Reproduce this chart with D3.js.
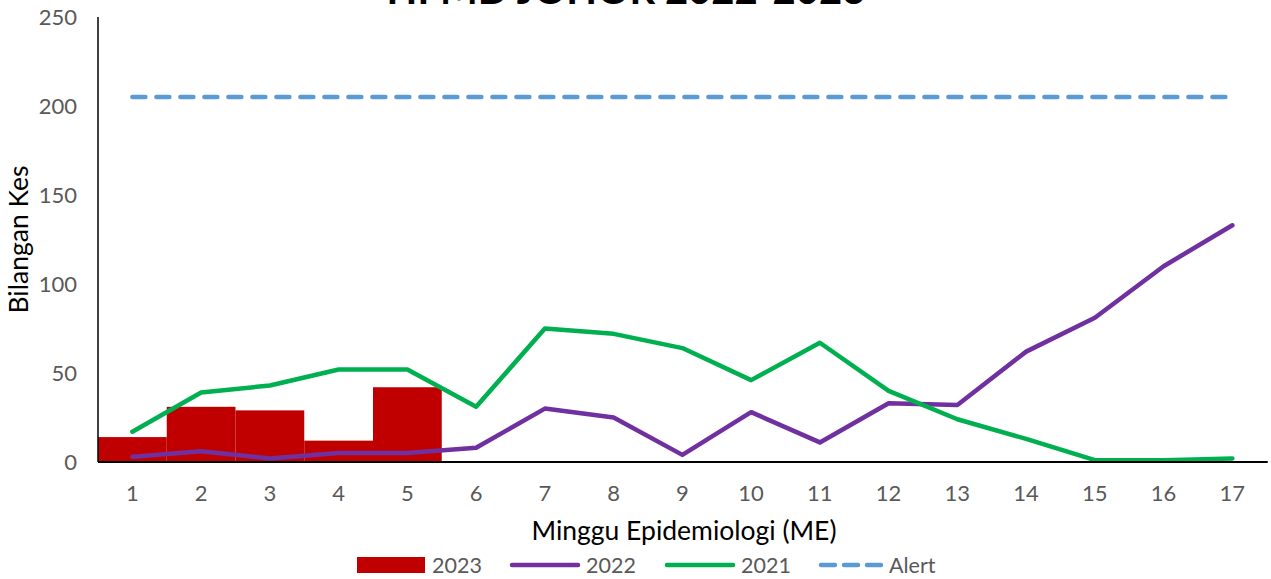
<!DOCTYPE html>
<html>
<head>
<meta charset="utf-8">
<script src="https://cdn.jsdelivr.net/npm/d3@7"></script>
<style>
  body { margin: 0; background: #fff; }
  text { font-family: Lato, "Open Sans", sans-serif; }
</style>
</head>
<body>
<script>
// Chart data
var weeks = d3.range(1, 18);
var cases2023 = [14, 31, 29, 12, 42];
var cases2022 = [3, 6, 2, 5, 5, 8, 30, 25, 4, 28, 11, 33, 32, 62, 81, 110, 133];
var cases2021 = [17, 39, 43, 52, 52, 31, 75, 72, 64, 46, 67, 40, 24, 13, 1, 1, 2];
var alertLevel = weeks.map(() => 205);
var yTicks = [0, 50, 100, 150, 200, 250];

var width = 1271, height = 579;
var margin = {top: 17, right: 4, bottom: 117, left: 98};
var innerW = width - margin.left - margin.right,
    innerH = height - margin.top - margin.bottom;

var svg = d3.select("body").append("svg")
  .attr("width", width)
  .attr("height", height);

var x = d3.scaleBand().domain(weeks).range([0, 68.75 * 17]).padding(0);
var y = d3.scaleLinear().domain([0, 250]).range([innerH, 0]);

var g = svg.append("g")
  .attr("transform", "translate(" + margin.left + "," + margin.top + ")");

// title (cut off at the top, as in the source)
svg.append("text")
  .attr("x", 626).attr("y", 4)
  .attr("text-anchor", "middle")
  .style("font-size", "40px").style("font-weight", "bold")
  .text("HFMD JOHOR 2022-2023");

// y axis labels
g.selectAll(".ylab").data(yTicks).enter().append("text")
  .attr("x", -21).attr("y", d => y(d)).attr("dy", "0.35em")
  .attr("text-anchor", "end")
  .style("font-size", "22px").style("fill", "#595959")
  .text(d => d);

// x axis labels
g.selectAll(".xlab").data(weeks).enter().append("text")
  .attr("x", d => x(d) + x.bandwidth() / 2).attr("y", innerH + 31).attr("dy", "0.35em")
  .attr("text-anchor", "middle")
  .style("font-size", "22px").style("fill", "#595959")
  .text(d => d);

// bars 2023
g.selectAll(".bar").data(cases2023).enter().append("rect")
  .attr("x", (d, i) => x(weeks[i]))
  .attr("y", d => y(d))
  .attr("width", x.bandwidth())
  .attr("height", d => innerH - y(d))
  .attr("fill", "#C00000");

var line = d3.line()
  .x((d, i) => x(weeks[i]) + x.bandwidth() / 2)
  .y(d => y(d));

g.append("path").datum(alertLevel)
  .attr("d", line).attr("fill", "none")
  .attr("stroke", "#5B9BD5").attr("stroke-width", 4.5)
  .attr("stroke-dasharray", "13,11").attr("stroke-linecap", "round");

g.append("path").datum(cases2022)
  .attr("d", line).attr("fill", "none")
  .attr("stroke", "#7030A0").attr("stroke-width", 4.5)
  .attr("stroke-linecap", "round").attr("stroke-linejoin", "round");

g.append("path").datum(cases2021)
  .attr("d", line).attr("fill", "none")
  .attr("stroke", "#00B050").attr("stroke-width", 4.5)
  .attr("stroke-linecap", "round").attr("stroke-linejoin", "round");

// axis lines
g.append("line")
  .attr("x1", 0).attr("x2", 0).attr("y1", 0).attr("y2", innerH)
  .attr("stroke", "#000").attr("stroke-width", 1.5);
g.append("line")
  .attr("x1", 0).attr("x2", 68.75 * 17 + 1).attr("y1", innerH).attr("y2", innerH)
  .attr("stroke", "#000").attr("stroke-width", 2);

// axis titles
svg.append("text")
  .attr("transform", "translate(28," + (margin.top + y(125)) + ") rotate(-90)")
  .attr("text-anchor", "middle")
  .style("font-size", "26.5px").style("fill", "#000")
  .text("Bilangan Kes");

svg.append("text")
  .attr("x", 684).attr("y", 540)
  .attr("text-anchor", "middle")
  .style("font-size", "26.5px").style("fill", "#000")
  .text("Minggu Epidemiologi (ME)");

// legend
var legend = svg.append("g").attr("transform", "translate(0,565)");
var legendFont = "21.5px";
legend.append("rect").attr("x", 357).attr("y", -8).attr("width", 68).attr("height", 16).attr("fill", "#C00000");
legend.append("text").attr("x", 432).attr("y", 0).attr("dy", "0.35em")
  .style("font-size", legendFont).style("fill", "#595959").text("2023");

legend.append("line").attr("x1", 512).attr("x2", 578).attr("y1", 0).attr("y2", 0)
  .attr("stroke", "#7030A0").attr("stroke-width", 4.5).attr("stroke-linecap", "round");
legend.append("text").attr("x", 586).attr("y", 0).attr("dy", "0.35em")
  .style("font-size", legendFont).style("fill", "#595959").text("2022");

legend.append("line").attr("x1", 667).attr("x2", 733).attr("y1", 0).attr("y2", 0)
  .attr("stroke", "#00B050").attr("stroke-width", 4.5).attr("stroke-linecap", "round");
legend.append("text").attr("x", 741).attr("y", 0).attr("dy", "0.35em")
  .style("font-size", legendFont).style("fill", "#595959").text("2021");

legend.append("line").attr("x1", 821).attr("x2", 881).attr("y1", 0).attr("y2", 0)
  .attr("stroke", "#5B9BD5").attr("stroke-width", 4.5)
  .attr("stroke-dasharray", "14,9").attr("stroke-linecap", "round");
legend.append("text").attr("x", 889).attr("y", 0).attr("dy", "0.35em")
  .style("font-size", legendFont).style("fill", "#595959").text("Alert");
</script>
</body>
</html>
